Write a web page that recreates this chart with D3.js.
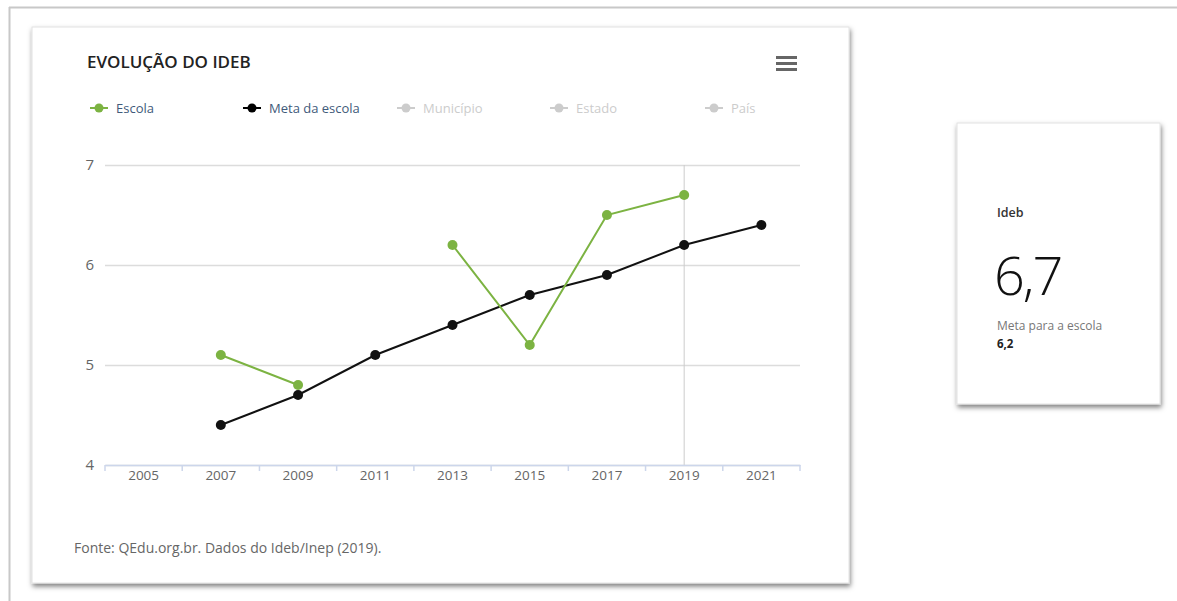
<!DOCTYPE html>
<html>
<head>
<meta charset="utf-8">
<script src="https://cdn.jsdelivr.net/npm/d3@7"></script>
<style>
  body { margin: 0; background: #fff; }
</style>
</head>
<body>
<div id="chart"></div>
<script>
// data
var years = ["2005", "2007", "2009", "2011", "2013", "2015", "2017", "2019", "2021"];
var escola = [null, 5.1, 4.8, null, 6.2, 5.2, 6.5, 6.7, null];
var meta = [null, 4.4, 4.7, 5.1, 5.4, 5.7, 5.9, 6.2, 6.4];
var yTicks = [4, 5, 6, 7];
var legendNames = ["Escola", "Meta da escola", "Município", "Estado", "País"];
var legendColors = ["#7cb342", "#000000", "#cccccc", "#cccccc", "#cccccc"];

var W = 1177, H = 601;
var font = "'Open Sans', 'DejaVu Sans', sans-serif";

var svg = d3.select("#chart").append("svg")
  .attr("width", W)
  .attr("height", H);

var defs = svg.append("defs");
var f = defs.append("filter").attr("id", "shadow")
  .attr("x", "-5%").attr("y", "-5%").attr("width", "112%").attr("height", "112%");
f.append("feDropShadow").attr("dx", 1).attr("dy", 3).attr("stdDeviation", 2.5)
  .attr("flood-color", "#000").attr("flood-opacity", 0.5);

// outer frame lines
svg.append("line").attr("x1", 9).attr("x2", W).attr("y1", 7.5).attr("y2", 7.5)
  .attr("stroke", "#c8c8c8").attr("stroke-width", 2);
svg.append("line").attr("x1", 9.5).attr("x2", 9.5).attr("y1", 7).attr("y2", H)
  .attr("stroke", "#c8c8c8").attr("stroke-width", 2);

// main card
svg.append("rect").attr("x", 32).attr("y", 27).attr("width", 817).attr("height", 556)
  .attr("fill", "#fff").attr("stroke", "#e2e2e2").attr("filter", "url(#shadow)");

// side card
svg.append("rect").attr("x", 957).attr("y", 123).attr("width", 203).attr("height", 281)
  .attr("fill", "#fff").attr("stroke", "#e2e2e2").attr("filter", "url(#shadow)");

// title
svg.append("text")
  .attr("x", 87).attr("y", 68)
  .text("EVOLUÇÃO DO IDEB")
  .attr("font-family", font)
  .attr("font-size", "17px")
  .attr("font-weight", "600")
  .attr("fill", "#222");

// menu icon
[0, 6, 12].forEach(function(o) {
  svg.append("rect").attr("x", 776).attr("y", 56 + o).attr("width", 21).attr("height", 3)
    .attr("fill", "#666");
});

// scales
var margin = { left: 105, right: 800, top: 165, bottom: 465 };
var x = d3.scaleBand().domain(years).range([margin.left, margin.right]);
var y = d3.scaleLinear().domain([4, 7]).range([margin.bottom, margin.top]);
var cx = function(i) { return x(years[i]) + x.bandwidth() / 2; };

// grid
svg.append("g")
  .attr("transform", "translate(" + margin.left + ",0)")
  .call(d3.axisLeft(y).tickValues(yTicks).tickSize(-(margin.right - margin.left)).tickFormat(d3.format("d")))
  .call(function(g) {
    g.select(".domain").remove();
    g.selectAll(".tick line").attr("stroke", "#dcdcdc").attr("stroke-width", 1.5);
    g.selectAll(".tick text").attr("x", -11).attr("font-family", font)
      .attr("font-size", "15px").attr("fill", "#666");
  });

// crosshair at 2019
svg.append("line")
  .attr("x1", cx(7)).attr("x2", cx(7))
  .attr("y1", margin.top).attr("y2", margin.bottom)
  .attr("stroke", "#cccccc").attr("stroke-width", 1);

// x axis
var xAxis = svg.append("g")
  .attr("transform", "translate(0," + margin.bottom + ")")
  .call(d3.axisBottom(x).tickSize(0).tickPadding(5));
xAxis.select(".domain").attr("stroke", "#ccd6eb").attr("stroke-width", 1.5);
xAxis.selectAll(".tick text").attr("font-family", font).attr("font-size", "13.5px").attr("fill", "#666");
// tick marks at band edges
xAxis.selectAll(".edge")
  .data(d3.range(years.length + 1))
  .enter().append("line")
  .attr("x1", function(i) { return margin.left + i * x.step(); })
  .attr("x2", function(i) { return margin.left + i * x.step(); })
  .attr("y1", 0).attr("y2", 6)
  .attr("stroke", "#ccd6eb").attr("stroke-width", 1.5);

// lines
function drawSeries(vals, color) {
  var line = d3.line()
    .defined(function(d) { return d != null; })
    .x(function(d, i) { return cx(i); })
    .y(function(d) { return y(d); });
  svg.append("path").datum(vals)
    .attr("d", line)
    .attr("fill", "none")
    .attr("stroke", color)
    .attr("stroke-width", 2);
  svg.selectAll(null)
    .data(vals.map(function(v, i) { return { v: v, i: i }; }).filter(function(d) { return d.v != null; }))
    .enter().append("circle")
    .attr("cx", function(d) { return cx(d.i); })
    .attr("cy", function(d) { return y(d.v); })
    .attr("r", 5)
    .attr("fill", color);
}
drawSeries(meta, "#111111");
drawSeries(escola, "#7cb342");

// legend
var legendX = [90, 243, 397, 550, 705];
var leg = svg.selectAll(".leg").data(legendNames).enter().append("g")
  .attr("transform", function(d, i) { return "translate(" + legendX[i] + ",108)"; });
leg.append("line").attr("x1", 0).attr("x2", 18).attr("y1", 0).attr("y2", 0)
  .attr("stroke", function(d, i) { return legendColors[i]; }).attr("stroke-width", 2);
leg.append("circle").attr("cx", 9).attr("cy", 0).attr("r", 4.5)
  .attr("fill", function(d, i) { return legendColors[i]; });
leg.append("text").attr("x", 26).attr("y", 5)
  .text(function(d) { return d; })
  .attr("font-family", font).attr("font-size", "13px")
  .attr("fill", function(d, i) { return i < 2 ? "#3f5a7a" : "#cccccc"; });

// footer
svg.append("text").attr("x", 74).attr("y", 553)
  .text("Fonte: QEdu.org.br. Dados do Ideb/Inep (2019).")
  .attr("font-family", font).attr("font-size", "14px").attr("fill", "#666");

// side card texts
svg.append("text").attr("x", 997).attr("y", 217).text("Ideb")
  .attr("font-family", font).attr("font-size", "12.5px").attr("font-weight", "600").attr("fill", "#333");
svg.append("text").attr("x", 994).attr("y", 295).text("6,7")
  .attr("font-family", font).attr("font-size", "54px").attr("font-weight", "300").attr("fill", "#111")
  .attr("letter-spacing", "-2px");
svg.append("text").attr("x", 997).attr("y", 330).text("Meta para a escola")
  .attr("font-family", font).attr("font-size", "12px").attr("fill", "#777");
svg.append("text").attr("x", 997).attr("y", 348).text("6,2")
  .attr("font-family", font).attr("font-size", "11.5px").attr("font-weight", "700").attr("fill", "#222");
</script>
</body>
</html>
